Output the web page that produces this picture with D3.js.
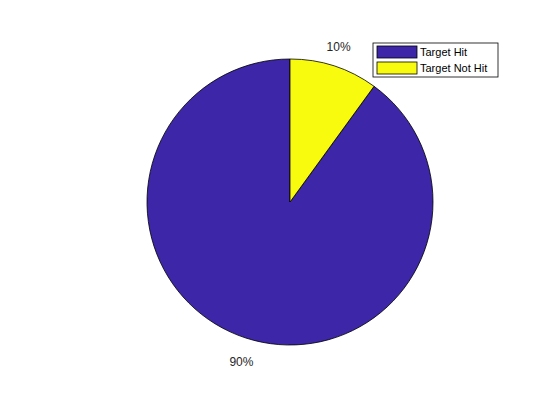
<!DOCTYPE html>
<html>
<head>
<meta charset="utf-8">
<script src="https://cdn.jsdelivr.net/npm/d3@7"></script>
<style>
  body { margin: 0; background: #fff; }
  text { font-family: "Liberation Sans", Arial, sans-serif; }
</style>
</head>
<body>
<script>
// data
var categories = ["Target Hit", "Target Not Hit"];
var values = [90, 10];
var labels = ["90%", "10%"];
var colors = ["#3e26a8", "#f9fb0e"];

var width = 560, height = 420;
var cx = 290, cy = 202, radius = 143;

var svg = d3.select("body").append("svg")
  .attr("width", width)
  .attr("height", height);

var color = d3.scaleOrdinal().domain(categories).range(colors);

// matlab style: start at top, go counter-clockwise
var pie = d3.pie().sort(null).startAngle(0).endAngle(-2 * Math.PI);
var arcs = pie(values);

var arc = d3.arc().innerRadius(0).outerRadius(radius);
var labelArc = d3.arc().innerRadius(radius * 1.1).outerRadius(radius * 1.1);

var g = svg.append("g").attr("transform", "translate(" + cx + "," + cy + ")");

g.selectAll("path")
  .data(arcs)
  .enter()
  .append("path")
  .attr("d", arc)
  .attr("fill", function(d, i) { return color(categories[i]); })
  .attr("stroke", "#000")
  .attr("stroke-width", 0.8);

g.selectAll("text.lbl")
  .data(arcs)
  .enter()
  .append("text")
  .attr("class", "lbl")
  .attr("x", function(d) { return labelArc.centroid(d)[0]; })
  .attr("y", function(d) { return labelArc.centroid(d)[1]; })
  .attr("dy", function(d) { return labelArc.centroid(d)[1] > 0 ? "1.17em" : "-0.1em"; })
  .attr("text-anchor", "middle")
  .attr("font-size", 12)
  .attr("fill", "#262626")
  .text(function(d, i) { return labels[i]; });

// legend
var legend = svg.append("g").attr("transform", "translate(373,43)");
legend.append("rect")
  .attr("width", 125).attr("height", 34)
  .attr("fill", "#fff").attr("stroke", "#000").attr("stroke-width", 0.8);

var item = legend.selectAll("g.item")
  .data(categories)
  .enter()
  .append("g")
  .attr("class", "item")
  .attr("transform", function(d, i) { return "translate(4," + (3 + i * 16) + ")"; });

item.append("rect")
  .attr("width", 40).attr("height", 12)
  .attr("fill", function(d) { return color(d); })
  .attr("stroke", "#000").attr("stroke-width", 0.8);

item.append("text")
  .attr("x", 43).attr("y", 10)
  .attr("font-size", 11)
  .attr("fill", "#000")
  .text(function(d) { return d; });
</script>
</body>
</html>
